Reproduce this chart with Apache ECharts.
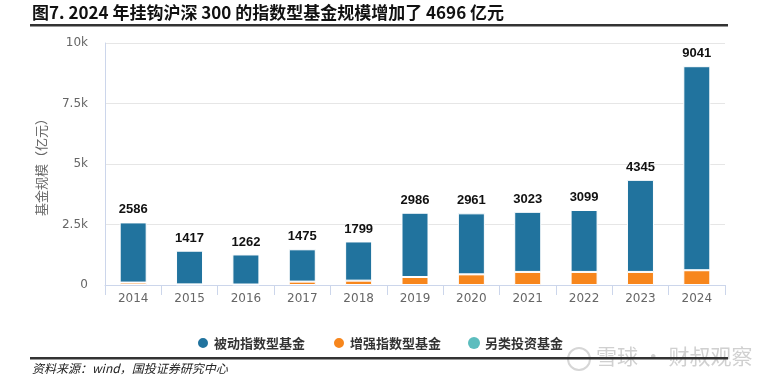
<!DOCTYPE html>
<html><head><meta charset="utf-8">
<script src="https://cdn.jsdelivr.net/npm/echarts@6/dist/echarts.min.js"></script>
<style>html,body{margin:0;padding:0;background:#fff}#c{width:774px;height:386px}</style>
</head><body><div id="c"></div>
<script>
var categories = ['2014','2015','2016','2017','2018','2019','2020','2021','2022','2023','2024'];
var totals = [2586,1417,1262,1475,1799,2986,2961,3023,3099,4345,9041];
var enhanced = [100,25,20,140,180,330,440,540,540,540,610];
var other = [0,0,0,0,0,0,0,0,0,0,0];
var passive = [2486,1392,1242,1335,1619,2656,2521,2483,2559,3805,8431];
var yTicks = ['0','2.5k','5k','7.5k','10k'];

var chart = echarts.init(document.getElementById('c'), null, {renderer:'canvas'});
var FS = '"DejaVu Sans","Noto Sans CJK SC",sans-serif';
chart.setOption({
  animation:false,
  grid:{left:105,right:49,top:43,bottom:101},
  legend:{
    data:['被动指数型基金','增强指数型基金','另类投资基金'],
    left:191, top:331, icon:'circle', itemWidth:12, itemHeight:12, itemGap:27,
    textStyle:{color:'#333',fontSize:13,fontWeight:'bold',fontFamily:'"Noto Sans CJK SC",sans-serif'}
  },
  xAxis:{
    type:'category', data:categories,
    axisLine:{lineStyle:{color:'#ccd6eb'}},
    axisTick:{show:true,length:10,lineStyle:{color:'#ccd6eb'}},
    axisLabel:{color:'#666',fontSize:12,margin:8,fontFamily:FS}
  },
  yAxis:{
    type:'value', min:0, max:10000, interval:2500,
    name:'基金规模（亿元）', nameLocation:'middle', nameGap:57,
    nameTextStyle:{color:'#666',fontSize:13,fontFamily:'"Noto Sans CJK SC",sans-serif'},
    axisLine:{show:true,lineStyle:{color:'#ccd6eb'}},
    axisTick:{show:false},
    splitLine:{lineStyle:{color:'#e6e6e6'}},
    axisLabel:{color:'#666',fontSize:12,margin:17,fontFamily:FS,
      formatter:function(v){return yTicks[Math.round(v/2500)];}}
  },
  series:[
    {name:'增强指数型基金',type:'bar',stack:'s',data:enhanced,barWidth:27,
     itemStyle:{color:'#f7861c',borderColor:'#fff',borderWidth:1}},
    {name:'被动指数型基金',type:'bar',stack:'s',data:passive,barWidth:27,
     itemStyle:{color:'#21739e',borderColor:'#fff',borderWidth:1},
     label:{show:true,position:'top',distance:6,color:'#111',fontSize:13,fontWeight:'bold',
       fontFamily:'"Liberation Sans",Arial,sans-serif',
       formatter:function(p){return String(totals[p.dataIndex]);}}},
    {name:'另类投资基金',type:'bar',stack:'s',data:other,barWidth:27,
     itemStyle:{color:'#5cbdbe'}}
  ],
  graphic:[
    {type:'text',left:32,top:4,style:{text:'图7. 2024 年挂钩沪深 300 的指数型基金规模增加了 4696 亿元',
      fill:'#111',font:'bold 17px "Noto Sans CJK SC",sans-serif'}},
    {type:'rect',shape:{x:30,y:24,width:698,height:2.5},style:{fill:'#333'}},
    {type:'text',left:596,top:346,z:0,style:{text:'雪球 · 财叔观察',fill:'#d0d0d0',
      font:'21px "Noto Sans CJK SC",sans-serif'}},
    {type:'circle',shape:{cx:579,cy:359,r:11},z:0,style:{fill:'none',stroke:'#d6d6d6',lineWidth:2}},
    {type:'rect',shape:{x:30,y:357,width:698,height:2.5},z:10,style:{fill:'#333'}},
    {type:'text',left:32,top:362,style:{text:'资料来源：wind，国投证券研究中心',fill:'#222',
      font:'italic 12px "Noto Sans CJK SC",sans-serif'}}
  ]
});
</script></body></html>
